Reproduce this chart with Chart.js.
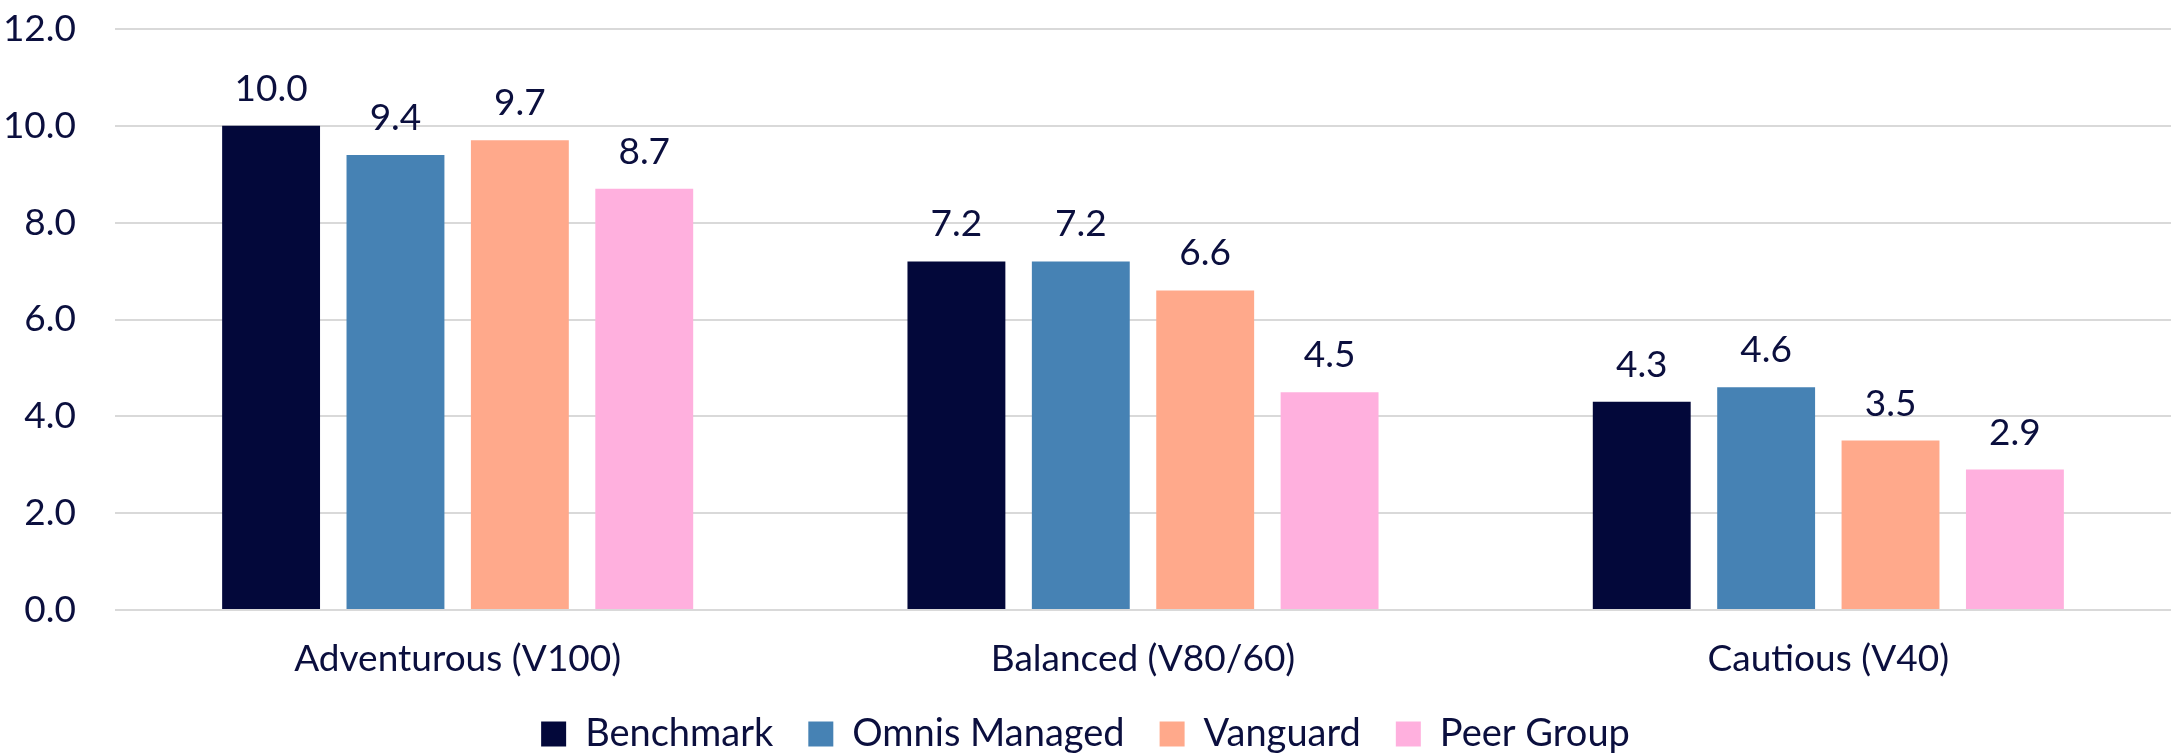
<!DOCTYPE html>
<html>
<head>
<meta charset="utf-8">
<script src="https://cdn.jsdelivr.net/npm/chart.js@4.4.0/dist/chart.umd.min.js"></script>
<style>
    html, body { margin: 0; padding: 0; background: #ffffff; }
    #wrap { width: 2171px; height: 755px; }
</style>
</head>
<body>
<div id="wrap"><canvas id="returnsChart" width="2171" height="755"></canvas></div>
<script>
// chart data
const categories = ['Adventurous (V100)', 'Balanced (V80/60)', 'Cautious (V40)'];
const benchmark = [10.0, 7.2, 4.3];
const omnisManaged = [9.4, 7.2, 4.6];
const vanguard = [9.7, 6.6, 3.5];
const peerGroup = [8.7, 4.5, 2.9];
const yTicks = [0, 2, 4, 6, 8, 10, 12];

const textColor = '#0b0f3e';
const fontFamily = 'Lato, "Open Sans", sans-serif';

// Value labels above each bar
const valueLabels = {
    id: 'valueLabels',
    afterDatasetsDraw(chart) {
        const ctx = chart.ctx;
        ctx.save();
        ctx.font = '37px ' + fontFamily;
        ctx.fillStyle = textColor;
        ctx.textAlign = 'center';
        ctx.textBaseline = 'alphabetic';
        chart.data.datasets.forEach((ds, i) => {
            const meta = chart.getDatasetMeta(i);
            meta.data.forEach((bar, j) => {
                ctx.fillText(ds.data[j].toFixed(1), bar.x, bar.y - 25);
            });
        });
        ctx.restore();
    }
};

const ctx = document.getElementById('returnsChart');
new Chart(ctx.getContext('2d'), {
    type: 'bar',
    data: {
        labels: categories,
        datasets: [
            { label: 'Benchmark', data: benchmark, backgroundColor: '#03083a' },
            { label: 'Omnis Managed', data: omnisManaged, backgroundColor: '#4682b4' },
            { label: 'Vanguard', data: vanguard, backgroundColor: '#ffa98b' },
            { label: 'Peer Group', data: peerGroup, backgroundColor: '#ffb0de' }
        ]
    },
    options: {
        responsive: false,
        animation: false,
        devicePixelRatio: 1,
        layout: { padding: { top: 29, right: 0, left: 0, bottom: -8 } },
        datasets: {
            bar: { categoryPercentage: 0.726, barPercentage: 0.787 }
        },
        scales: {
            x: {
                grid: { display: false, drawTicks: false },
                border: { display: false },
                ticks: {
                    color: textColor,
                    font: { family: fontFamily, size: 37 },
                    padding: 27
                },
                afterFit(scale) { scale.height = 70; }
            },
            y: {
                min: 0,
                max: 12,
                afterBuildTicks(scale) { scale.ticks = yTicks.map(v => ({ value: v })); },
                grid: { color: '#d9d9d9', lineWidth: 2, drawTicks: false },
                border: { display: false },
                ticks: {
                    color: textColor,
                    font: { family: fontFamily, size: 37 },
                    padding: 39,
                    callback: v => v.toFixed(1)
                },
                afterFit(scale) {
                    scale.width = 115;
                    scale.paddingTop = 0;
                    scale.paddingBottom = 0;
                }
            }
        },
        plugins: {
            legend: {
                position: 'bottom',
                labels: {
                    color: textColor,
                    font: { family: fontFamily, size: 38 },
                    boxWidth: 25,
                    boxHeight: 25,
                    padding: 35
                }
            },
            tooltip: { enabled: false }
        }
    },
    plugins: [valueLabels]
});
</script>
</body>
</html>
